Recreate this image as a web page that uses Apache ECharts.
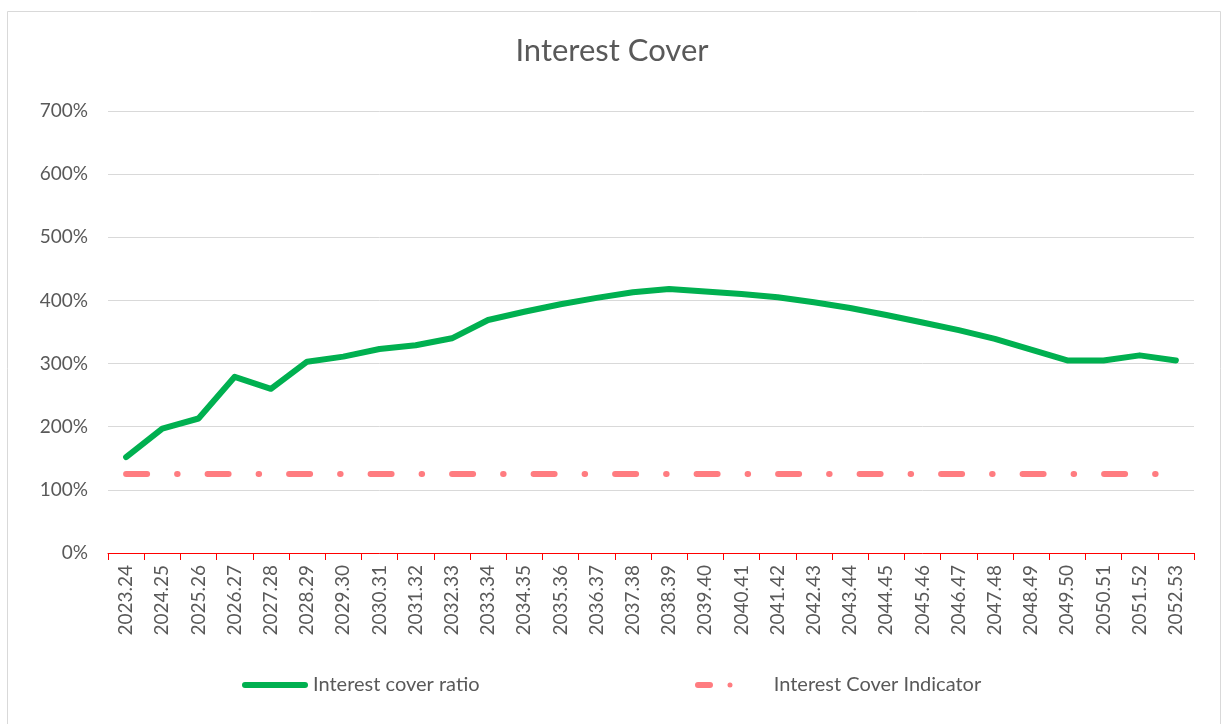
<!DOCTYPE html>
<html>
<head>
<meta charset="utf-8">
<script src="https://cdn.jsdelivr.net/npm/echarts@6/dist/echarts.min.js"></script>
<style>html,body{margin:0;padding:0;background:#fff;}#c{width:1224px;height:724px;}</style>
</head>
<body>
<div id="c"></div>
<script>
const categories = ['2023.24','2024.25','2025.26','2026.27','2027.28','2028.29','2029.30','2030.31','2031.32','2032.33','2033.34','2034.35','2035.36','2036.37','2037.38','2038.39','2039.40','2040.41','2041.42','2042.43','2043.44','2044.45','2045.46','2046.47','2047.48','2048.49','2049.50','2050.51','2051.52','2052.53'];
const coverRatio = [152,197,213,279,260,303,311,323,329,340,369,382,394,404,413,418,414,410,405,397,388,377,365,353,339,322,305,305,313,305];
const coverIndicator = [125,125,125,125,125,125,125,125,125,125,125,125,125,125,125,125,125,125,125,125,125,125,125,125,125,125,125,125,125,125];
const yTicks = [0,100,200,300,400,500,600,700];

const chart = echarts.init(document.getElementById('c'));
const font = 'Lato, "Noto Sans", sans-serif';
chart.setOption({
  animation: false,
  backgroundColor: '#fff',
  textStyle: { fontFamily: font },
  title: {
    text: 'Interest Cover', left: 'center', top: 30,
    textStyle: { fontFamily: font, fontSize: 31, fontWeight: 'normal', color: '#595959' }
  },
  graphic: [{
    type: 'rect', shape: { x: 7.5, y: 11.5, width: 1213, height: 730 },
    style: { fill: 'none', stroke: '#D9D9D9', lineWidth: 1 }, silent: true, z: -1
  }],
  grid: { left: 108, right: 30, top: 111, bottom: 171, containLabel: false },
  legend: [{
    data: [{ name: 'Interest cover ratio',
      icon: 'path://M3,0 L63,0 A3,3 0 0 1 63,6 L3,6 A3,3 0 0 1 3,0 Z',
      itemStyle: { color: '#00B050' } }],
    left: 242, top: 675, padding: 0,
    itemWidth: 66, itemHeight: 6,
    textStyle: { fontFamily: font, fontSize: 20, color: '#595959', padding: [0,0,0,0] }
  }, {
    data: [{ name: 'Interest Cover Indicator',
      icon: 'path://M3,0 L15,0 A3,3 0 0 1 15,6 L3,6 A3,3 0 0 1 3,0 Z M32.5,3 A2.5,2.5 0 1 1 37.5,3 A2.5,2.5 0 1 1 32.5,3 Z',
      itemStyle: { color: '#FF7C80' } }],
    left: 695, top: 675, padding: 0,
    itemWidth: 38, itemHeight: 6,
    textStyle: { fontFamily: font, fontSize: 20, color: '#595959', padding: [0,0,0,36] }
  }],
  xAxis: {
    type: 'category', data: categories, boundaryGap: true,
    axisLine: { show: true, lineStyle: { color: '#FF0000', width: 1 } },
    axisTick: { show: true, length: 7, lineStyle: { color: '#FF0000' }, alignWithLabel: false, inside: false },
    axisLabel: { rotate: 90, interval: 0, margin: 12, color: '#595959', fontSize: 19, fontFamily: font }
  },
  yAxis: {
    type: 'value', min: 0, max: 700, interval: 100,
    axisLine: { show: false }, axisTick: { show: false },
    splitLine: { lineStyle: { color: '#D9D9D9', width: 1 } },
    axisLabel: { formatter: v => yTicks.includes(v) ? v + '%' : '', color: '#595959', fontSize: 19, margin: 20, fontFamily: font }
  },
  series: [{
    name: 'Interest cover ratio', type: 'line', data: coverRatio,
    showSymbol: false, symbol: 'none', color: '#00B050',
    lineStyle: { color: '#00B050', width: 6, cap: 'round', join: 'round' }
  }, {
    name: 'Interest Cover Indicator', type: 'line', data: coverIndicator,
    showSymbol: false, symbol: 'none', color: '#FF7C80',
    lineStyle: { color: '#FF7C80', width: 6, cap: 'round', type: [21, 30, 0.5, 30] }
  }]
});
</script>
</body>
</html>
